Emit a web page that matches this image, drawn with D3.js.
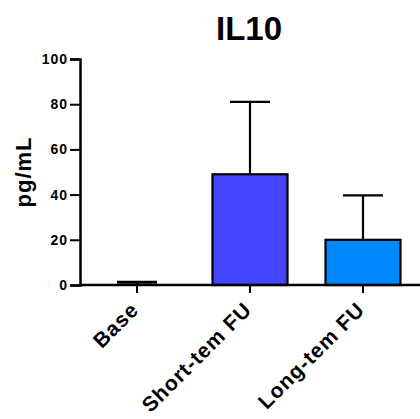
<!DOCTYPE html>
<html><head><meta charset="utf-8">
<script src="https://cdn.jsdelivr.net/npm/d3@7"></script>
<style>body{margin:0;background:#fff}svg{display:block}text{font-family:"Liberation Sans",Arial,sans-serif;font-weight:bold}</style>
</head><body>
<svg id="c" width="420" height="419"></svg>
<script>
const categories = ["Base", "Short-tem FU", "Long-tem FU"];
const means = [0, 49, 20];
const errUpper = [1.2, 81, 39.7];
const colors = ["#ffffff", "#4444ff", "#0088ff"];
const yTicks = [0, 20, 40, 60, 80, 100];

const svg = d3.select("#c");
const x = d3.scalePoint().domain(categories).range([137, 363]);
const y = d3.scaleLinear().domain([0, 100]).range([285, 59]);
const bw = 75, capW = 40;

svg.append("text").attr("x", 249).attr("y", 40).attr("text-anchor", "middle")
  .attr("font-size", 33).text("IL10");

svg.append("text").attr("transform", "translate(31,172) rotate(-90)")
  .attr("text-anchor", "middle").attr("font-size", 22).attr("letter-spacing", 1).text("pg/mL");

// bars
svg.selectAll("rect.bar").data(categories).join("rect")
  .attr("x", d => x(d) - bw / 2).attr("width", bw)
  .attr("y", (d, i) => y(means[i])).attr("height", (d, i) => y(0) - y(means[i]))
  .attr("fill", (d, i) => colors[i]).attr("stroke", "#000").attr("stroke-width", 2.2);

// error bars
const eb = svg.append("g").attr("stroke", "#000").attr("stroke-width", 2.2);
categories.forEach((c, i) => {
  eb.append("line").attr("x1", x(c)).attr("x2", x(c)).attr("y1", y(means[i])).attr("y2", y(errUpper[i]));
  eb.append("line").attr("x1", x(c) - capW / 2).attr("x2", x(c) + capW / 2).attr("y1", y(errUpper[i])).attr("y2", y(errUpper[i]))
    .attr("stroke-width", i === 0 ? 3 : 2.2);
});

// y axis
const ya = svg.append("g").attr("transform", "translate(80,0)")
  .call(d3.axisLeft(y).tickValues(yTicks).tickSize(10).tickPadding(2));
ya.select(".domain").attr("stroke-width", 2.5);
ya.selectAll(".tick line").attr("stroke-width", 2);
ya.selectAll(".tick text").attr("font-size", 14).attr("letter-spacing", 1)
  .attr("font-family", "Liberation Sans, Arial").attr("font-weight", "bold");

// x axis
const xa = svg.append("g").attr("transform", "translate(0,285)");
xa.append("line").attr("x1", 79).attr("x2", 420).attr("stroke", "#000").attr("stroke-width", 2.5);
xa.selectAll("line.t").data(categories).join("line")
  .attr("x1", d => x(d)).attr("x2", d => x(d)).attr("y1", 0).attr("y2", 8)
  .attr("stroke", "#000").attr("stroke-width", 2);
xa.selectAll("text.xl").data(categories).join("text")
  .attr("text-anchor", "end").attr("font-size", 21).attr("letter-spacing", 1)
  .attr("transform", d => `translate(${x(d) + 3},${26}) rotate(-45)`)
  .text(d => d);
</script>
</body></html>
